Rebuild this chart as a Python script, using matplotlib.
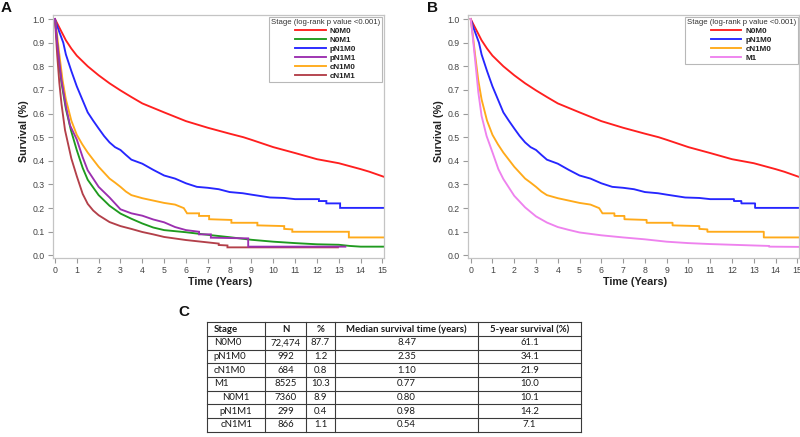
import matplotlib
matplotlib.use("Agg")
import matplotlib.pyplot as plt
from matplotlib import font_manager
from matplotlib.lines import Line2D

# ---------------- data ----------------
xticks = list(range(0, 16))
yticks = [round(0.1 * i, 1) for i in range(11)]
ytick_labels = [f"{v:.1f}" for v in yticks]

# N0M0 (both panels)
t_n0m0 = [0, 0.25, 0.5, 0.75, 1, 1.5, 2, 2.5, 3, 3.5, 4, 5, 6, 7, 8, 8.63, 9, 10, 11, 12, 13, 13.6, 14, 14.4, 15.05]
s_n0m0 = [1.0, 0.955, 0.91, 0.875, 0.845, 0.80, 0.762, 0.728, 0.698, 0.67, 0.643, 0.605, 0.568, 0.54, 0.515, 0.50, 0.489, 0.458, 0.433, 0.407, 0.39, 0.375, 0.365, 0.354, 0.333]

# pN1M0 (both panels)
t_pn1m0 = [0, 0.1, 0.2, 0.38, 0.5, 0.75, 1, 1.25, 1.5, 1.75, 2, 2.25, 2.5, 2.75, 3, 3.25, 3.5, 4, 4.5, 5, 5.5, 6, 6.5, 7, 7.5, 8, 8.6, 9, 9.85, 10.5, 11, 11.5, 12.09, 12.09, 12.43, 12.43, 13.06, 13.06, 15.05]
s_pn1m0 = [1.0, 0.97, 0.945, 0.9, 0.85, 0.78, 0.715, 0.66, 0.605, 0.57, 0.537, 0.505, 0.478, 0.458, 0.446, 0.425, 0.405, 0.388, 0.362, 0.338, 0.325, 0.305, 0.29, 0.286, 0.28, 0.268, 0.263, 0.257, 0.245, 0.243, 0.238, 0.238, 0.238, 0.230, 0.230, 0.220, 0.220, 0.201, 0.201]

# cN1M0 (both panels)
t_cn1m0 = [0, 0.1, 0.2, 0.35, 0.5, 0.75, 1, 1.25, 1.5, 1.75, 2, 2.25, 2.5, 2.75, 3, 3.25, 3.5, 4, 4.5, 5, 5.5, 5.9, 6.05, 6.6, 6.6, 7.06, 7.06, 8.08, 8.08, 9.27, 9.27, 10.5, 10.5, 10.87, 10.87, 13.46, 13.46, 15.05]
s_cn1m0 = [1.0, 0.93, 0.85, 0.74, 0.66, 0.57, 0.51, 0.47, 0.435, 0.405, 0.375, 0.35, 0.325, 0.308, 0.29, 0.27, 0.255, 0.242, 0.232, 0.222, 0.215, 0.2, 0.178, 0.178, 0.167, 0.167, 0.153, 0.15, 0.138, 0.138, 0.127, 0.124, 0.112, 0.11, 0.10, 0.10, 0.076, 0.076]

# N0M1 (panel A)
t_n0m1 = [0, 0.1, 0.2, 0.3, 0.5, 0.73, 1, 1.27, 1.5, 2, 2.5, 3, 3.5, 4, 4.5, 5, 6, 7, 8, 9, 10, 11, 12, 13, 13.5, 14, 15.05]
s_n0m1 = [1.0, 0.9, 0.8, 0.73, 0.62, 0.53, 0.445, 0.37, 0.32, 0.255, 0.21, 0.177, 0.155, 0.135, 0.118, 0.107, 0.098, 0.087, 0.077, 0.066, 0.058, 0.052, 0.047, 0.045, 0.04, 0.037, 0.037]

# pN1M1 (panel A)
t_pn1m1 = [0, 0.1, 0.2, 0.3, 0.5, 0.69, 1, 1.27, 1.5, 2, 2.5, 3, 3.5, 4, 4.5, 5, 5.5, 6, 6.6, 6.6, 7.14, 7.14, 8.85, 8.85, 13.3]
s_pn1m1 = [1.0, 0.9, 0.82, 0.74, 0.63, 0.55, 0.49, 0.415, 0.36, 0.29, 0.245, 0.195, 0.178, 0.168, 0.152, 0.14, 0.12, 0.107, 0.1, 0.089, 0.089, 0.075, 0.072, 0.037, 0.037]

# cN1M1 (panel A)
t_cn1m1 = [0, 0.1, 0.2, 0.3, 0.46, 0.75, 1, 1.27, 1.5, 1.75, 2, 2.5, 3, 3.5, 4, 4.5, 5, 6, 7, 7.5, 7.5, 7.9, 7.9, 12.96]
s_cn1m1 = [1.0, 0.85, 0.73, 0.64, 0.53, 0.41, 0.335, 0.26, 0.218, 0.19, 0.17, 0.141, 0.124, 0.112, 0.099, 0.089, 0.078, 0.065, 0.055, 0.05, 0.044, 0.042, 0.034, 0.034]

# M1 (panel B)
t_m1 = [0, 0.1, 0.2, 0.35, 0.5, 0.73, 1, 1.27, 1.5, 2, 2.5, 3, 3.5, 4, 4.5, 5, 6, 7, 8, 9, 10, 11, 12, 13, 13.7, 13.7, 15.05]
s_m1 = [1.0, 0.92, 0.83, 0.69, 0.59, 0.505, 0.436, 0.365, 0.323, 0.252, 0.203, 0.165, 0.139, 0.12, 0.108, 0.097, 0.085, 0.076, 0.068, 0.058, 0.052, 0.048, 0.045, 0.042, 0.04, 0.037, 0.036]

legend_title = "Stage (log-rank p value <0.001)"

# table C
table_header = ["Stage", "N", "%", "Median survival time (years)", "5-year survival (%)"]
table_stage = ["N0M0", "pN1M0", "cN1M0", "M1", "N0M1", "pN1M1", "cN1M1"]
table_n = ["72,474", "992", "684", "8525", "7360", "299", "866"]
table_pct = ["87.7", "1.2", "0.8", "10.3", "8.9", "0.4", "1.1"]
table_median = ["8.47", "2.35", "1.10", "0.77", "0.80", "0.98", "0.54"]
table_surv5 = ["61.1", "34.1", "21.9", "10.0", "10.1", "14.2", "7.1"]
table_sub = [False, False, False, False, True, True, True]

# ---------------- style ----------------
avail = {f.name for f in font_manager.fontManager.ttflist}
NARROW = "Liberation Sans Narrow" if "Liberation Sans Narrow" in avail else "Liberation Sans"
narrow_scale = 1.0 if NARROW == "Liberation Sans Narrow" else 0.93
TABLE_FONT = "Lato" if "Lato" in avail else "Liberation Sans"

C_RED = "#ff1f1f"
C_GREEN = "#1f9a1f"
C_BLUE = "#2626ff"
C_PURPLE = "#9b2fb0"
C_ORANGE = "#ffaa1a"
C_BROWN = "#b3404a"
C_VIOLET = "#ee82ee"

W, H = 800, 437
fig = plt.figure(figsize=(W / 100, H / 100), dpi=100)


def px_axes(l, t, r, b):
    return fig.add_axes([l / W, 1 - b / H, (r - l) / W, (b - t) / H])


def style_axes(ax, xmin, xmax):
    ax.set_xlim(xmin, xmax)
    ax.set_ylim(-0.011, 1.017)
    ax.set_xticks(xticks)
    ax.set_yticks(yticks)
    ax.set_yticklabels(ytick_labels)
    for sp in ax.spines.values():
        sp.set_color("#c4c4c4")
        sp.set_linewidth(0.9)
    ax.tick_params(axis="both", direction="out", length=3.5, width=0.8,
                   color="#9a9a9a", labelcolor="#444444", pad=2.5,
                   labelsize=6.8 * narrow_scale)
    for lab in ax.get_xticklabels() + ax.get_yticklabels():
        lab.set_family(NARROW)


def add_legend(ax, handles, labels):
    leg = ax.legend(handles, labels, title=legend_title, loc="upper right",
                    bbox_to_anchor=(1, 1), borderaxespad=0.2, frameon=True,
                    fancybox=False, edgecolor="#b8b8b8", framealpha=1,
                    handlelength=3.8, handletextpad=0.5, labelspacing=0.18,
                    borderpad=0.25, prop={"family": NARROW, "weight": "bold",
                                          "size": 6.2 * narrow_scale},
                    title_fontproperties={"family": NARROW, "size": 6.0 * narrow_scale})
    leg.get_frame().set_linewidth(0.8)
    leg.get_title().set_color("#333333")
    for txt in leg.get_texts():
        txt.set_color("#222222")
    return leg


LW = 1.35

# ---- Panel A ----
axA = px_axes(53, 15, 384, 258)
style_axes(axA, -0.09, 15.07)
specsA = [
    ("N0M0", t_n0m0, s_n0m0, C_RED),
    ("N0M1", t_n0m1, s_n0m1, C_GREEN),
    ("pN1M0", t_pn1m0, s_pn1m0, C_BLUE),
    ("pN1M1", t_pn1m1, s_pn1m1, C_PURPLE),
    ("cN1M0", t_cn1m0, s_cn1m0, C_ORANGE),
    ("cN1M1", t_cn1m1, s_cn1m1, C_BROWN),
]
draw_orderA = ["N0M0", "pN1M0", "cN1M0", "N0M1", "cN1M1", "pN1M1"]
byname = {s[0]: s for s in specsA}
for name in draw_orderA:
    _, t, s, c = byname[name]
    axA.plot(t, s, color=c, lw=LW, solid_joinstyle="miter")
add_legend(axA, [Line2D([], [], color=s[3], lw=LW) for s in specsA],
           [s[0] for s in specsA])

# ---- Panel B ----
axB = px_axes(468.3, 15, 799.5, 258)
style_axes(axB, -0.11, 15.1)
specsB = [
    ("N0M0", t_n0m0, s_n0m0, C_RED),
    ("pN1M0", t_pn1m0, s_pn1m0, C_BLUE),
    ("cN1M0", t_cn1m0, s_cn1m0, C_ORANGE),
    ("M1", t_m1, s_m1, C_VIOLET),
]
for name, t, s, c in specsB:
    axB.plot(t, s, color=c, lw=LW)
add_legend(axB, [Line2D([], [], color=s[3], lw=LW) for s in specsB],
           [s[0] for s in specsB])

# axis labels
lab_kw = dict(family=NARROW, weight="bold", size=8.3 * narrow_scale, color="#222222",
              ha="center", va="center")
fig.text(220 / W, 1 - 282 / H, "Time (Years)", **lab_kw)
fig.text(635 / W, 1 - 282 / H, "Time (Years)", **lab_kw)
fig.text(24 / W, 1 - 131 / H, "Survival (%)", rotation=90, **lab_kw)
fig.text(439 / W, 1 - 131 / H, "Survival (%)", rotation=90, **lab_kw)

# panel letters
pl_kw = dict(family="Liberation Sans", weight="bold", size=11, color="#111111",
             ha="center", va="center")
fig.text(6 / W, 1 - 8 / H, "A", **pl_kw)
fig.text(432 / W, 1 - 8 / H, "B", **pl_kw)
fig.text(184 / W, 1 - 312 / H, "C", **pl_kw)

# ---- Table C ----
axT = fig.add_axes([0, 0, 1, 1])
axT.set_xlim(0, W)
axT.set_ylim(H, 0)
axT.axis("off")
col_x = [207.3, 265.0, 306.0, 335.0, 478.3, 581.0]
top, bottom = 322.3, 431.7
nrows = 1 + len(table_stage)
rh = (bottom - top) / nrows
line_kw = dict(color="#3a3a3a", lw=0.8)
for i in range(nrows + 1):
    y = top + i * rh
    axT.plot([col_x[0], col_x[-1]], [y, y], **line_kw)
for x in col_x:
    axT.plot([x, x], [top, bottom], **line_kw)

tkw = dict(family=TABLE_FONT, size=6.9, color="#1a1a1a", va="center")
# header
for j, h in enumerate(table_header):
    yc = top + rh / 2
    if j == 0:
        axT.text(col_x[0] + 6.5, yc, h, ha="left", weight="bold", **tkw)
    else:
        axT.text((col_x[j] + col_x[j + 1]) / 2, yc, h, ha="center", weight="bold", **tkw)
cols = [table_n, table_pct, table_median, table_surv5]
for i in range(len(table_stage)):
    yc = top + (i + 1.5) * rh
    if table_sub[i]:
        axT.text((col_x[0] + col_x[1]) / 2, yc, table_stage[i], ha="center", **tkw)
    else:
        axT.text(col_x[0] + 6.5, yc, table_stage[i], ha="left", **tkw)
    for j, col in enumerate(cols):
        axT.text((col_x[j + 1] + col_x[j + 2]) / 2, yc, col[i], ha="center", **tkw)

fig.savefig("out.png", dpi=100)
